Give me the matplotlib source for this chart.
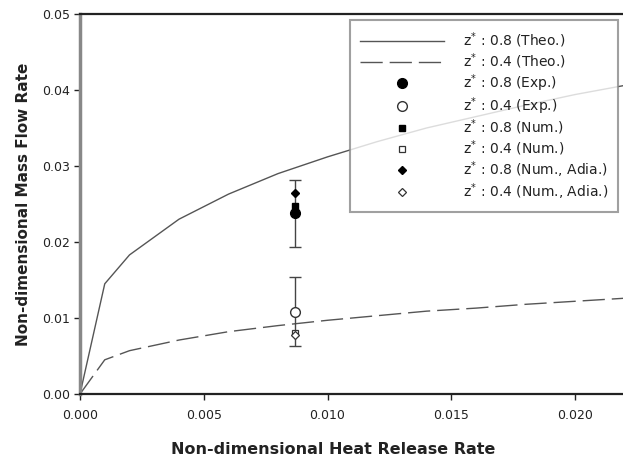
import matplotlib
matplotlib.use("Agg")
import matplotlib.pyplot as plt

plt.rcParams['font.family'] = ['DejaVu Sans']

# Theoretical curves
theo_x = [0.0, 0.001, 0.002, 0.004, 0.006, 0.008, 0.010, 0.012, 0.014, 0.016, 0.018, 0.020, 0.022]
theo_08 = [0.0, 0.0145, 0.0183, 0.0230, 0.0263, 0.0290, 0.0312, 0.0332, 0.0350, 0.0365, 0.0380, 0.0394, 0.0406]
theo_04 = [0.0, 0.0045, 0.0057, 0.0071, 0.0082, 0.0090, 0.0097, 0.0103, 0.0109, 0.0113, 0.0118, 0.0122, 0.0126]

# Point data
q_point = 0.0087
exp_08, exp_08_err = 0.0238, 0.0044
exp_04, exp_04_err = 0.01085, 0.0045
num_08 = 0.0247
num_04 = 0.0080
adia_08 = 0.0265
adia_04 = 0.0077

labels = [r"z$^{*}$ : 0.8 (Theo.)", r"z$^{*}$ : 0.4 (Theo.)",
          r"z$^{*}$ : 0.8 (Exp.)", r"z$^{*}$ : 0.4 (Exp.)",
          r"z$^{*}$ : 0.8 (Num.)", r"z$^{*}$ : 0.4 (Num.)",
          r"z$^{*}$ : 0.8 (Num., Adia.)", r"z$^{*}$ : 0.4 (Num., Adia.)"]
xticks = [0.000, 0.005, 0.010, 0.015, 0.020]
yticks = [0.00, 0.01, 0.02, 0.03, 0.04, 0.05]

fig = plt.figure(figsize=(6.23, 4.63), dpi=100)
ax = fig.add_axes([80/623, 1-394/463, 544.5/623, 380/463])

line_c = '#555555'
h1, = ax.plot(theo_x, theo_08, color=line_c, lw=1.0, label=labels[0])
h2, = ax.plot(theo_x, theo_04, color=line_c, lw=1.0, dashes=(16, 5), label=labels[1])

eb_kw = dict(fmt='none', ecolor='#444444', elinewidth=1.0, capsize=4.5, capthick=1.0)
ax.errorbar([q_point], [exp_08], yerr=[exp_08_err], **eb_kw)
ax.errorbar([q_point], [exp_04], yerr=[exp_04_err], **eb_kw)

h3, = ax.plot([q_point], [exp_08], 'o', color='black', ms=7, label=labels[2], zorder=5)
h4, = ax.plot([q_point], [exp_04], 'o', mfc='white', mec='#333333', mew=1.0, ms=7, label=labels[3], zorder=5)
h5, = ax.plot([q_point], [num_08], 's', color='black', ms=4.5, label=labels[4], zorder=6)
h6, = ax.plot([q_point], [num_04], 's', mfc='white', mec='#333333', mew=0.9, ms=4.5, label=labels[5], zorder=6)
h7, = ax.plot([q_point], [adia_08], 'D', color='black', ms=4.0, label=labels[6], zorder=6)
h8, = ax.plot([q_point], [adia_04], 'D', mfc='white', mec='#333333', mew=0.9, ms=4.0, label=labels[7], zorder=6)

ax.set_xlim(0, 0.022)
ax.set_ylim(0, 0.05)
ax.set_xticks(xticks)
ax.set_yticks(yticks)
ax.set_xticklabels([f"{v:.3f}" for v in xticks])
ax.set_yticklabels([f"{v:.2f}" for v in yticks])
ax.tick_params(axis='both', direction='out', length=4, width=1, labelsize=9, colors='#222222')
ax.tick_params(axis='x', pad=7)
ax.tick_params(axis='y', pad=3)

for s in ['top', 'bottom']:
    ax.spines[s].set_linewidth(1.6)
    ax.spines[s].set_color('#222222')
ax.spines['left'].set_linewidth(2.5)
ax.spines['left'].set_color('#888888')
ax.spines['right'].set_visible(False)

ax.set_xlabel("Non-dimensional Heat Release Rate", fontsize=11.5, fontweight='bold', color='#222222')
ax.xaxis.set_label_coords((333 - 80) / 544.5, -(450 - 394) / 380, transform=ax.transAxes)
ax.xaxis.label.set_va('center')
ax.set_ylabel("Non-dimensional Mass Flow Rate", fontsize=11, fontweight='bold', labelpad=8, color='#222222')

leg = ax.legend(handles=[h1, h2, h3, h4, h5, h6, h7, h8], loc='upper left',
                bbox_to_anchor=(0.496, 0.984), fontsize=10, frameon=True, fancybox=False,
                edgecolor='#888888', handlelength=6, handletextpad=1.35,
                borderpad=0.75, labelspacing=0.09, borderaxespad=0, numpoints=1)
leg.get_frame().set_linewidth(1.5)
for t in leg.get_texts():
    t.set_color('#222222')

fig.savefig("out.png", dpi=100)
